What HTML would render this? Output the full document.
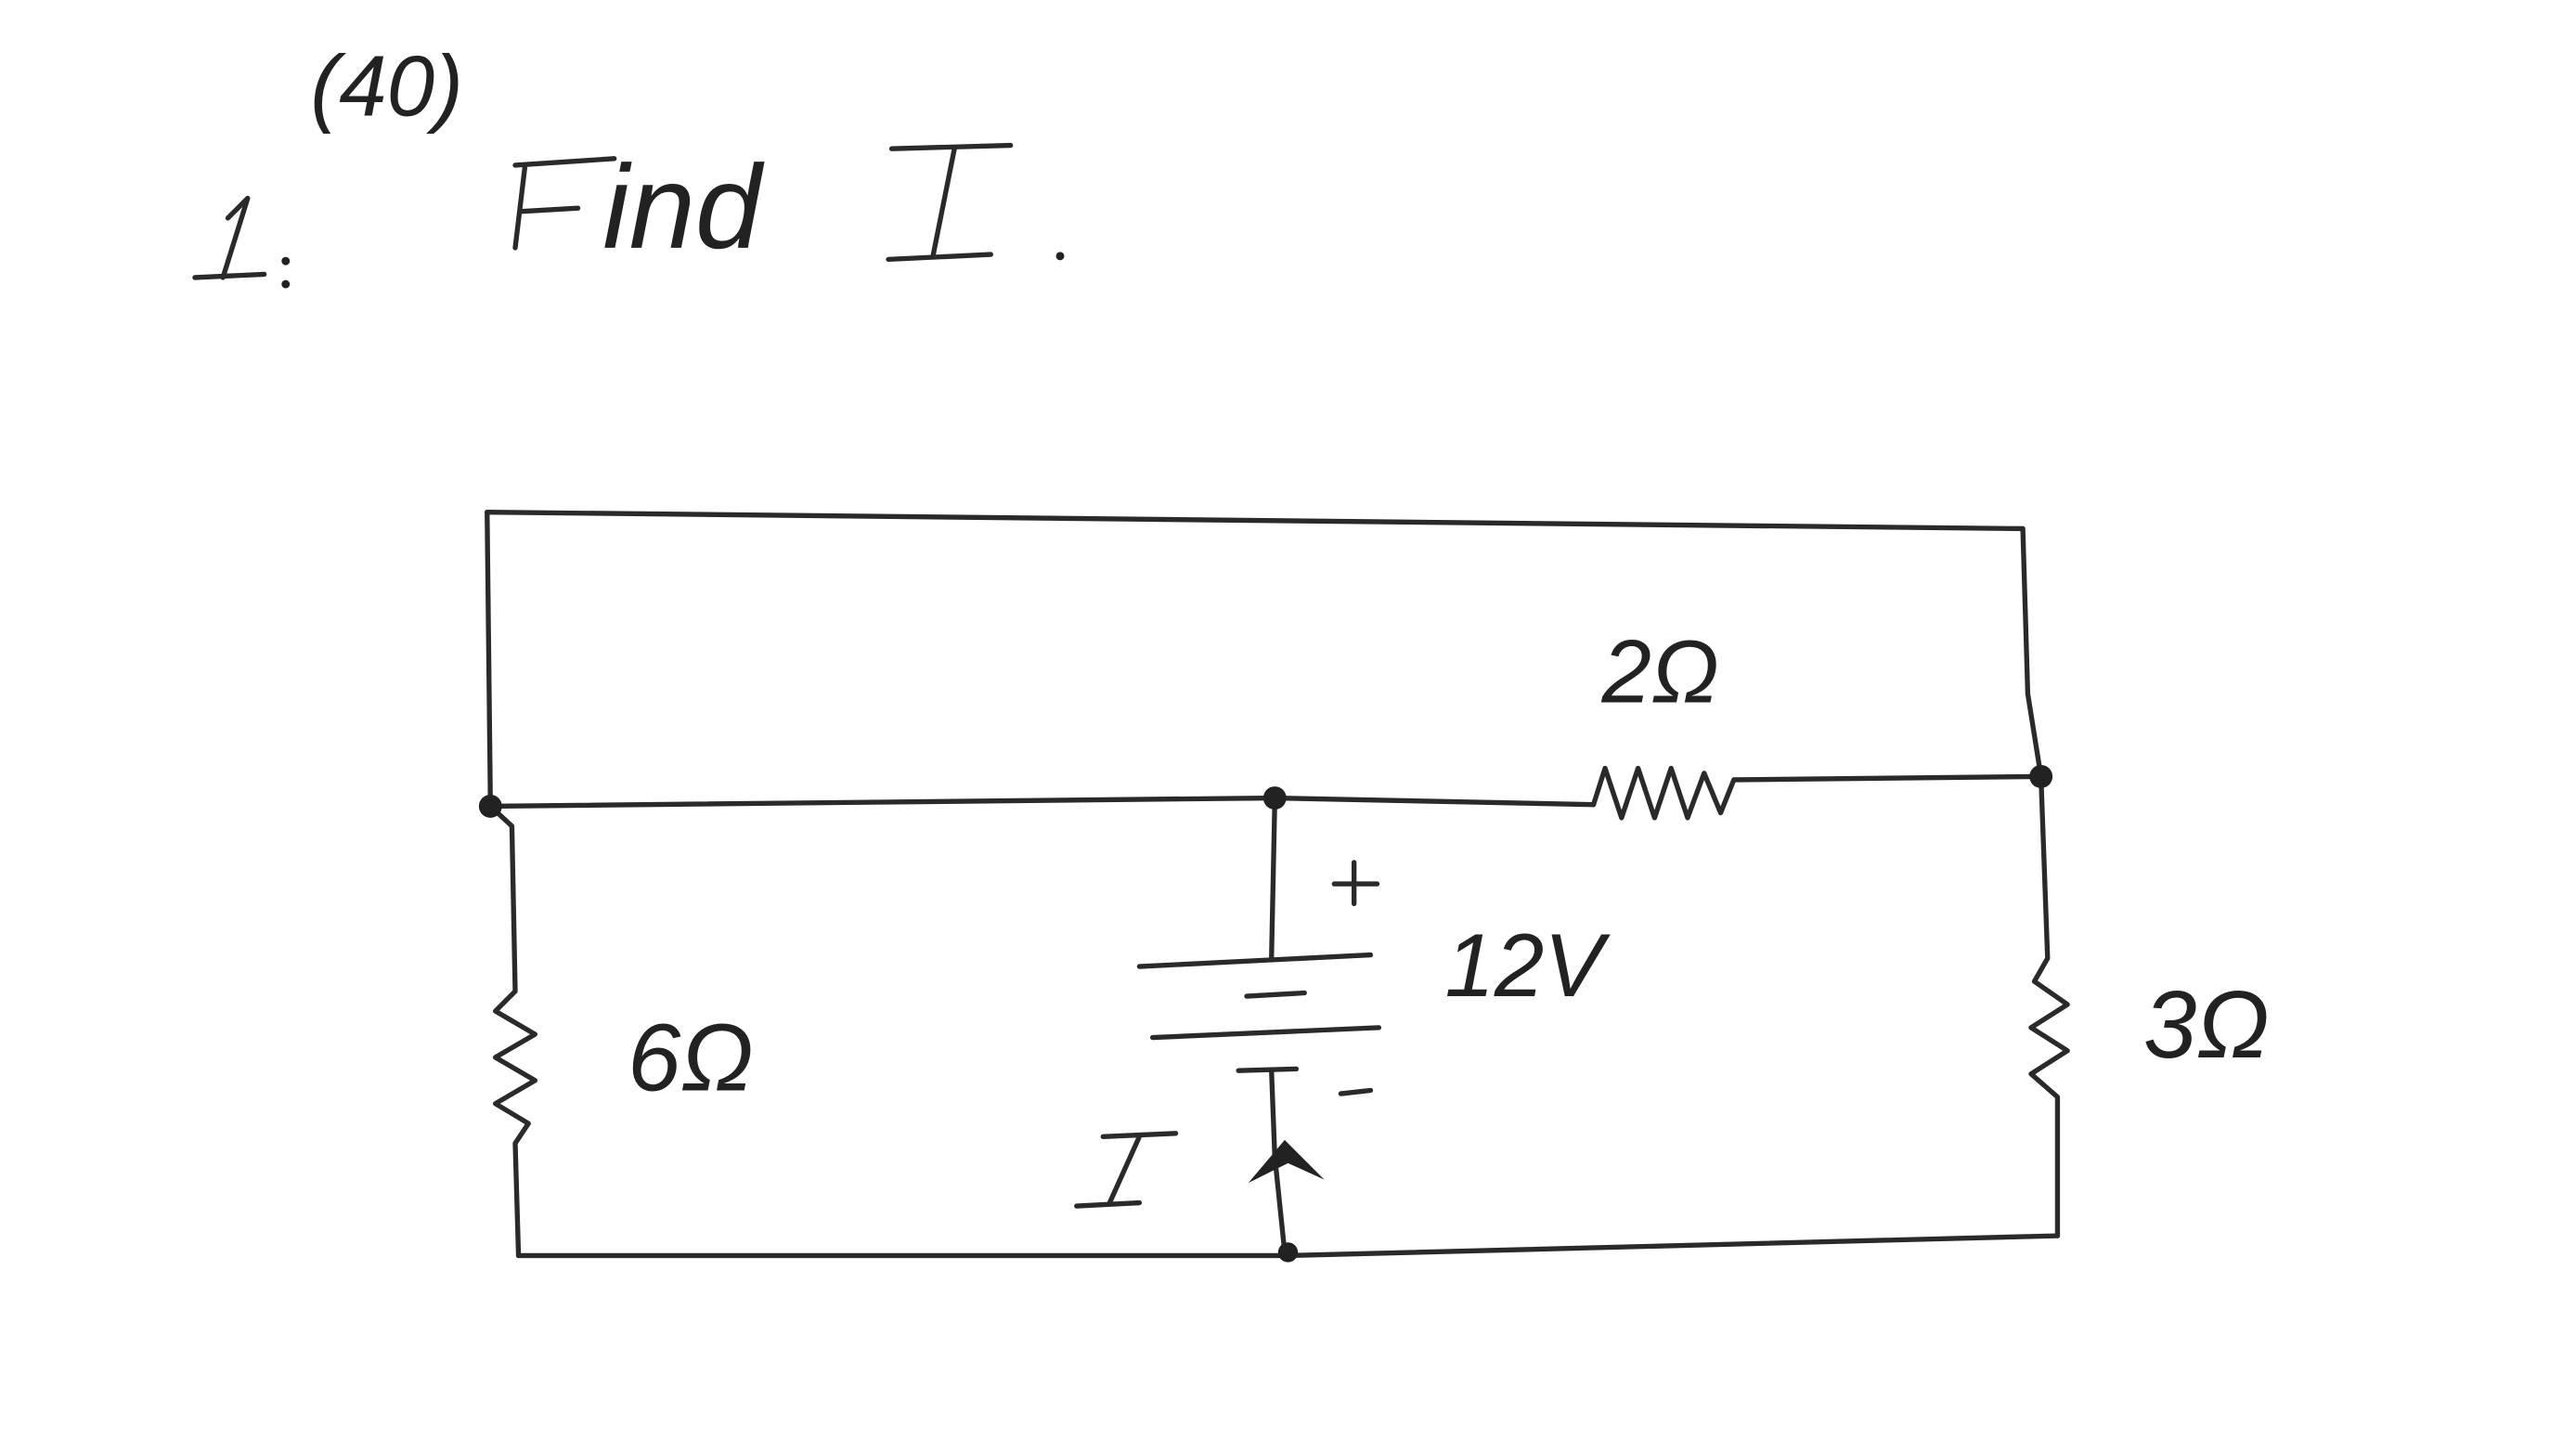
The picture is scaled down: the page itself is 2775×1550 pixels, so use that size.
<!DOCTYPE html>
<html><head><style>
html,body{margin:0;padding:0;background:#fff;}
svg{display:block;}
text{font-family:"Liberation Sans",sans-serif;fill:#222;font-style:italic;}
</style></head><body>
<svg width="2775" height="1550" viewBox="0 0 1560 871" preserveAspectRatio="none" xmlns="http://www.w3.org/2000/svg">
<g stroke="#2a2a2a" stroke-width="3" fill="none" stroke-linecap="round" stroke-linejoin="round">
<!-- top wire -->
<path d="M295 310 L1225 320"/>
<!-- left vertical top -->
<path d="M295 310 L297 488"/>
<!-- right vertical top -->
<path d="M1225 320 L1228 420 L1236 470"/>
<!-- middle wire -->
<path d="M297 488 L772 483 L965 487"/>
<path d="M965 487 L972 465 L982 495 L992 465 L1002 495 L1012 465 L1022 495 L1032 468 L1042 492 L1050 472 L1236 470"/>
<!-- left branch -->
<path d="M297 488 L310 500 L312 600 L300 612 L324 626 L300 640 L324 654 L300 668 L320 680 L312 692 L314 760"/>
<!-- right branch -->
<path d="M1236 470 L1240 580 L1232 594 L1252 608 L1230 622 L1252 636 L1230 650 L1246 664 L1246 748"/>
<!-- bottom wire -->
<path d="M314 760 L780 760 L1246 748"/>
<!-- battery -->
<path d="M772 485 L770 580"/>
<path d="M690 585 L830 578"/>
<path d="M755 603 L790 601"/>
<path d="M698 628 L835 622"/>
<path d="M750 648 L785 647"/>
<path d="M770 648 L772 700 L778 758"/>
<!-- plus/minus -->
<path d="M808 535 L834 535 M820 522 L820 547"/>
<path d="M812 662 L830 660"/>
<!-- I label -->
<path d="M668 688 L712 686 M690 688 L672 728 M652 730 L690 728"/>
<!-- title -->
<path d="M118 168 L160 166 M150 120 L135 168 M138 132 L150 120"/>
<path d="M312 100 L372 96 M318 100 L312 150 M315 128 L350 126"/>
<path d="M540 90 L612 88 M578 90 L565 155 M538 157 L600 154"/>
</g>
<g fill="#222">
<circle cx="297" cy="488" r="7"/>
<circle cx="772" cy="483" r="7"/>
<circle cx="1236" cy="470" r="7"/>
<circle cx="780" cy="758" r="6"/>
<path d="M756 716 L778 690 L802 714 L780 704 Z"/>
<circle cx="173" cy="158" r="2.5"/><circle cx="173" cy="172" r="2.5"/>
<circle cx="642" cy="155" r="2.5"/>
</g>
<text x="188" y="70" font-size="52">(40)</text>
<text x="365" y="150" font-size="72">ind</text>
<text x="970" y="425" font-size="54">2Ω</text>
<text x="875" y="603" font-size="54">12V</text>
<text x="380" y="660" font-size="58">6Ω</text>
<text x="1298" y="640" font-size="58">3Ω</text>
</svg>
</body></html>
